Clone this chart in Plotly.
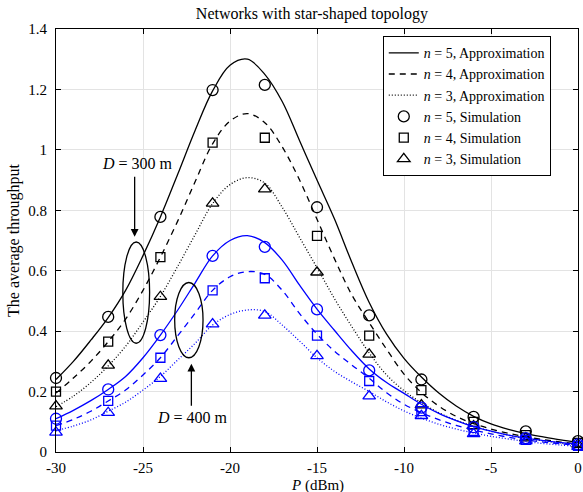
import plotly.graph_objects as go

# ---------------- data ----------------
P_approx = list(range(-30, 1))  # dBm, 1 dB grid for approximation curves

approx_300_n5 = [0.24, 0.30, 0.37, 0.445, 0.535, 0.65, 0.778, 0.92, 1.065, 1.195, 1.28,
                 1.30, 1.25, 1.16, 1.03, 0.90, 0.772, 0.628, 0.495, 0.39, 0.31, 0.248,
                 0.195, 0.152, 0.118, 0.093, 0.075, 0.061, 0.05, 0.04, 0.032]
approx_300_n4 = [0.195, 0.245, 0.30, 0.365, 0.44, 0.535, 0.645, 0.765, 0.895, 1.02, 1.095,
                 1.12, 1.09, 1.01, 0.90, 0.77, 0.64, 0.52, 0.428, 0.34, 0.258, 0.197,
                 0.152, 0.118, 0.094, 0.076, 0.062, 0.05, 0.041, 0.033, 0.027]
approx_300_n3 = [0.15, 0.185, 0.23, 0.285, 0.35, 0.43, 0.515, 0.615, 0.72, 0.822, 0.885,
                 0.908, 0.89, 0.81, 0.71, 0.61, 0.508, 0.415, 0.328, 0.255, 0.203, 0.163,
                 0.13, 0.105, 0.085, 0.069, 0.056, 0.045, 0.037, 0.03, 0.024]
approx_400_n5 = [0.11, 0.138, 0.17, 0.207, 0.25, 0.312, 0.387, 0.47, 0.56, 0.649, 0.70,
                 0.716, 0.693, 0.635, 0.552, 0.473, 0.403, 0.335, 0.275, 0.23, 0.194, 0.158,
                 0.128, 0.104, 0.084, 0.069, 0.056, 0.046, 0.038, 0.031, 0.026]
approx_400_n4 = [0.087, 0.108, 0.135, 0.169, 0.205, 0.255, 0.312, 0.385, 0.46, 0.535, 0.58,
                 0.597, 0.588, 0.535, 0.458, 0.39, 0.334, 0.288, 0.244, 0.196, 0.158, 0.13,
                 0.107, 0.088, 0.073, 0.06, 0.049, 0.04, 0.033, 0.027, 0.022]
approx_400_n3 = [0.07, 0.086, 0.106, 0.135, 0.165, 0.205, 0.25, 0.305, 0.36, 0.42, 0.455,
                 0.47, 0.465, 0.42, 0.367, 0.312, 0.267, 0.232, 0.2, 0.166, 0.136, 0.112,
                 0.092, 0.076, 0.063, 0.052, 0.043, 0.035, 0.028, 0.023, 0.019]

P_sim = [-30, -27, -24, -21, -18, -15, -12, -9, -6, -3, 0]
sim_300_n5 = [0.245, 0.447, 0.778, 1.198, 1.215, 0.81, 0.452, 0.24, 0.116, 0.068, 0.036]
sim_300_n4 = [0.2, 0.365, 0.645, 1.024, 1.04, 0.715, 0.385, 0.205, 0.1, 0.056, 0.03]
sim_300_n3 = [0.152, 0.287, 0.514, 0.823, 0.87, 0.595, 0.323, 0.155, 0.086, 0.046, 0.025]
sim_400_n5 = [0.11, 0.207, 0.387, 0.649, 0.679, 0.472, 0.27, 0.147, 0.082, 0.046, 0.025]
sim_400_n4 = [0.087, 0.169, 0.312, 0.535, 0.575, 0.385, 0.235, 0.135, 0.07, 0.04, 0.02]
sim_400_n3 = [0.065, 0.13, 0.243, 0.423, 0.452, 0.318, 0.185, 0.12, 0.06, 0.036, 0.018]

x_ticks = [-30, -25, -20, -15, -10, -5, 0]
x_ticklabels = ["-30", "-25", "-20", "-15", "-10", "-5", "0"]
y_ticks = [0, 0.2, 0.4, 0.6, 0.8, 1.0, 1.2, 1.4]
y_ticklabels = ["0", "0.2", "0.4", "0.6", "0.8", "1", "1.2", "1.4"]

FONT = "Liberation Serif, Times New Roman, serif"
BLACK = "#000000"
BLUE = "#0000FF"

fig = go.Figure()

def add_line(y, color, dash, name, show):
    fig.add_trace(go.Scatter(
        x=P_approx, y=y, mode="lines", name=name, showlegend=show,
        line=dict(color=color, width=1.3, dash=dash, shape="spline", smoothing=1.0),
    ))

def add_markers(y, color, symbol, size, name, show):
    fig.add_trace(go.Scatter(
        x=P_sim, y=y, mode="markers", name=name, showlegend=show, cliponaxis=False,
        marker=dict(symbol=symbol, size=size, color=color,
                    line=dict(color=color, width=1.3)),
    ))

add_line(approx_300_n5, BLACK, "solid", "<i>n</i> = 5, Approximation", True)
add_line(approx_300_n4, BLACK, "6px,5px", "<i>n</i> = 4, Approximation", True)
add_line(approx_300_n3, BLACK, "1px,2px", "<i>n</i> = 3, Approximation", True)
add_markers(sim_300_n5, BLACK, "circle-open", 11, "<i>n</i> = 5, Simulation", True)
add_markers(sim_300_n4, BLACK, "square-open", 9, "<i>n</i> = 4, Simulation", True)
add_markers(sim_300_n3, BLACK, "triangle-up-open", 11, "<i>n</i> = 3, Simulation", True)

add_line(approx_400_n5, BLUE, "solid", "n5 400", False)
add_line(approx_400_n4, BLUE, "6px,5px", "n4 400", False)
add_line(approx_400_n3, BLUE, "1px,2px", "n3 400", False)
add_markers(sim_400_n5, BLUE, "circle-open", 11, "s5 400", False)
add_markers(sim_400_n4, BLUE, "square-open", 9, "s4 400", False)
add_markers(sim_400_n3, BLUE, "triangle-up-open", 11, "s3 400", False)

# ellipses
fig.add_shape(type="circle", xref="x", yref="y", x0=-26.16, x1=-24.62, y0=0.36, y1=0.695,
              line=dict(color=BLACK, width=1.3))
fig.add_shape(type="circle", xref="x", yref="y", x0=-23.18, x1=-21.55, y0=0.312, y1=0.561,
              line=dict(color=BLACK, width=1.3))

# arrows
fig.add_annotation(x=-25.48, y=0.712, ax=-25.48, ay=0.916, xref="x", yref="y",
                   axref="x", ayref="y", text="", showarrow=True, arrowhead=2,
                   arrowsize=1.2, arrowwidth=1.3, arrowcolor=BLACK)
fig.add_annotation(x=-22.22, y=0.292, ax=-22.22, ay=0.148, xref="x", yref="y",
                   axref="x", ayref="y", text="", showarrow=True, arrowhead=2,
                   arrowsize=1.2, arrowwidth=1.3, arrowcolor=BLACK)
fig.add_annotation(x=-25.34, y=0.955, xref="x", yref="y", text="<i>D</i> = 300 m",
                   showarrow=False, font=dict(family=FONT, size=16, color=BLACK))
fig.add_annotation(x=-22.13, y=0.115, xref="x", yref="y", text="<i>D</i> = 400 m",
                   showarrow=False, font=dict(family=FONT, size=16, color=BLACK))

# x-axis title placed just below the tick labels
fig.add_annotation(x=0.5, y=-0.079, xref="paper", yref="paper", xanchor="center",
                   yanchor="middle", text="<i>P</i> (dBm)", showarrow=False,
                   font=dict(family=FONT, size=15, color=BLACK))

axis_common = dict(
    showline=True, linecolor=BLACK, linewidth=1, mirror="ticks",
    ticks="inside", ticklen=5, tickwidth=1, tickcolor=BLACK,
    showgrid=True, gridcolor="#e3e3e3", gridwidth=1, zeroline=False,
    automargin=False,
    tickfont=dict(family=FONT, size=15, color=BLACK),
)

fig.update_layout(
    width=583, height=492,
    margin=dict(l=56, r=5, t=29, b=40),
    paper_bgcolor="white", plot_bgcolor="white",
    font=dict(family=FONT, size=15, color=BLACK),
    title=dict(text="Networks with star-shaped topology", x=0.535, xanchor="center",
               y=0.973, yanchor="middle", font=dict(family=FONT, size=16, color=BLACK)),
    xaxis=dict(range=[-30, 0], tickvals=x_ticks, ticktext=x_ticklabels,
               ticklabelstandoff=2,
               **axis_common),
    yaxis=dict(range=[0, 1.4], tickvals=y_ticks, ticktext=y_ticklabels,
               ticklabelstandoff=5,
               title=dict(text="The average throughput", standoff=4,
                          font=dict(family=FONT, size=16, color=BLACK)),
               **axis_common),
    legend=dict(x=0.626, y=0.983, xanchor="left", yanchor="top",
                bgcolor="white", bordercolor=BLACK, borderwidth=1,
                font=dict(family=FONT, size=14, color=BLACK),
                itemwidth=30, tracegroupgap=0),
    showlegend=True,
)

fig.write_html("out.html")
